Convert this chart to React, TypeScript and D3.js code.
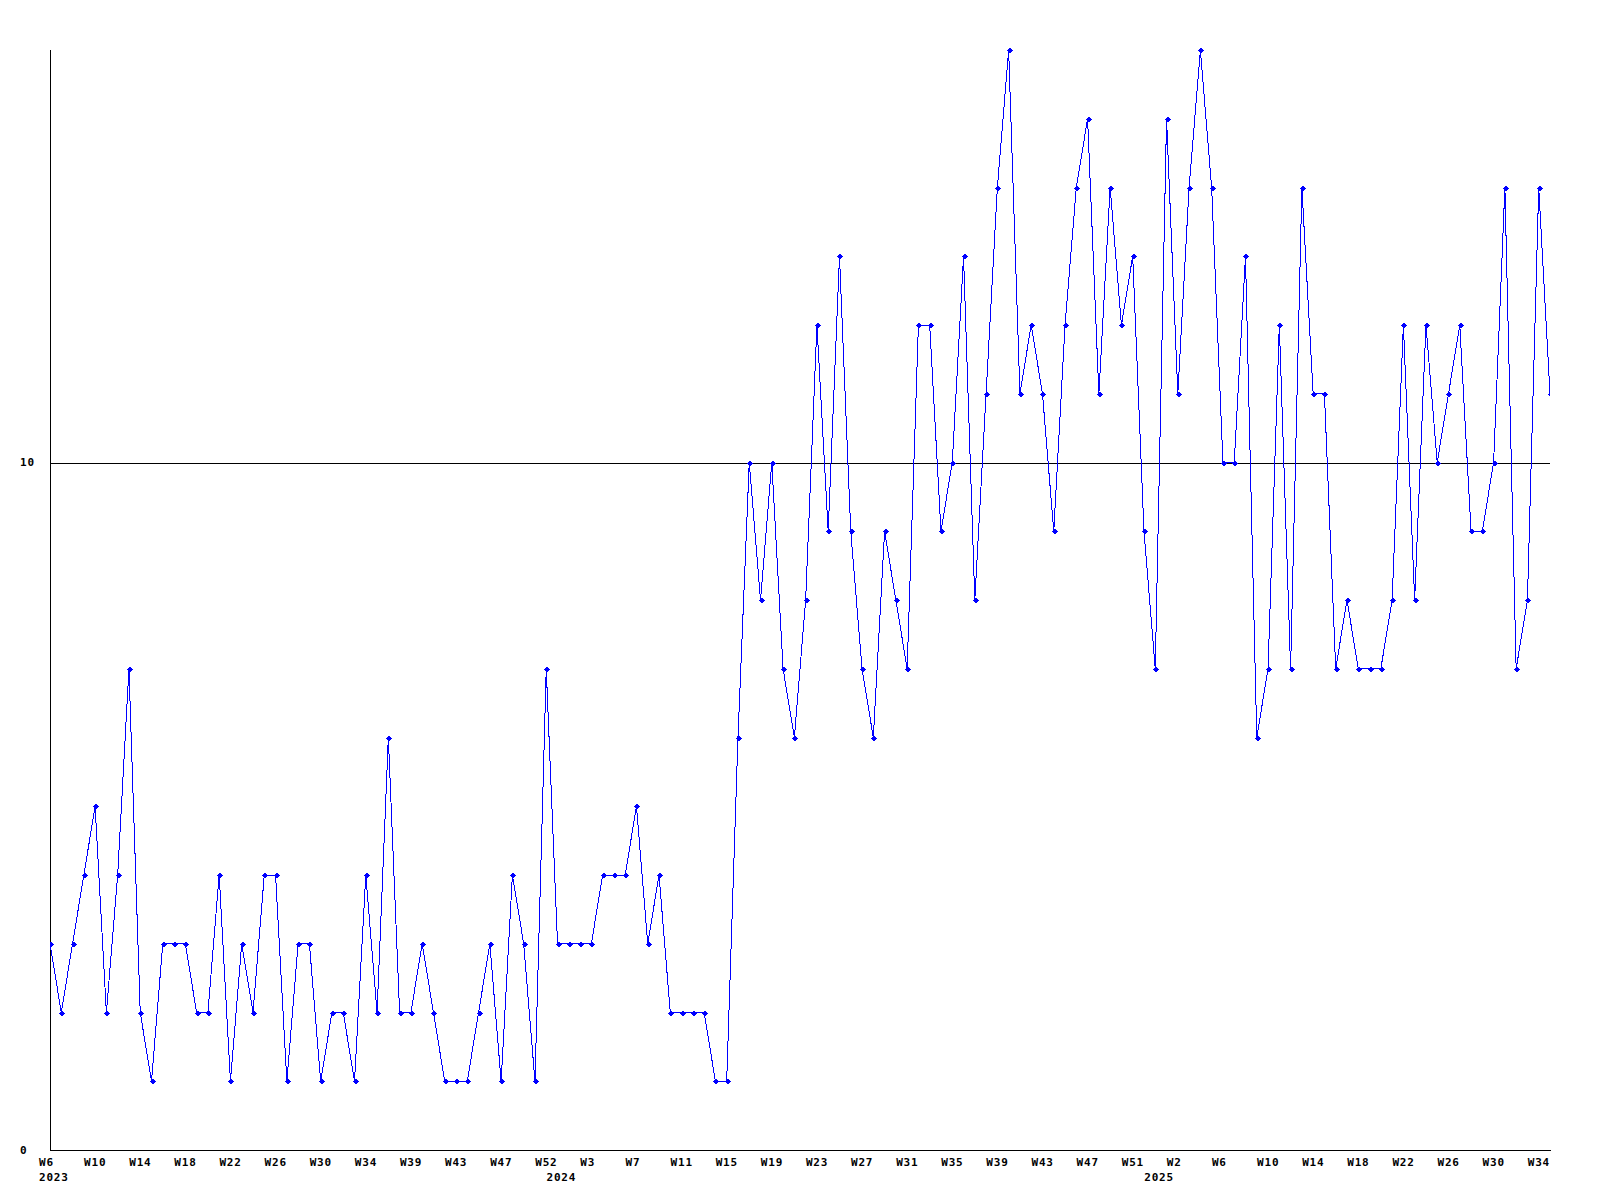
import React from "react";
import * as d3 from "d3";

const values: number[] = [
  3, 2, 3, 4, 5, 2, 4, 7, 2, 1,
  3, 3, 3, 2, 2, 4, 1, 3, 2, 4,
  4, 1, 3, 3, 1, 2, 2, 1, 4, 2,
  6, 2, 2, 3, 2, 1, 1, 1, 2, 3,
  1, 4, 3, 1, 7, 3, 3, 3, 3, 4,
  4, 4, 5, 3, 4, 2, 2, 2, 2, 1,
  1, 6, 10, 8, 10, 7, 6, 8, 12, 9,
  13, 9, 7, 6, 9, 8, 7, 12, 12, 9,
  10, 13, 8, 11, 14, 16, 11, 12, 11, 9,
  12, 14, 15, 11, 14, 12, 13, 9, 7, 15,
  11, 14, 16, 14, 10, 10, 13, 6, 7, 12,
  7, 14, 11, 11, 7, 8, 7, 7, 7, 8,
  12, 8, 12, 10, 11, 12, 9, 9, 10, 14,
  7, 8, 14, 11,
];

const weekLabels: string[] = [
  "W6", "W10", "W14", "W18", "W22", "W26", "W30", "W34", "W39", "W43", "W47", "W52",
  "W3", "W7", "W11", "W15", "W19", "W23", "W27", "W31", "W35", "W39", "W43", "W47", "W51",
  "W2", "W6", "W10", "W14", "W18", "W22", "W26", "W30", "W34",
];
const labelStep = 4;

const yearLabels: string[] = ["2023", "2024", "2025"];
const yearIndices: number[] = [0, 45, 98];

const yTicks: number[] = [0, 10];
const yMax = 16;

export default function App() {
  const W = 1600;
  const H = 1200;
  const left = 50;
  const right = 1550;
  const top = 50;
  const bottom = 1150;

  const x = d3.scaleLinear().domain([0, values.length - 1]).range([left, right]);
  const y = d3.scaleLinear().domain([0, yMax]).range([bottom, top]);

  const line = d3
    .line<number>()
    .x((_, i) => x(i))
    .y((d) => y(d));

  const font = "'DejaVu Sans Mono', monospace";
  const textProps = {
    fontFamily: font,
    fontWeight: "bold" as const,
    fontSize: 11,
    letterSpacing: 0.8,
    fill: "#000",
  };

  return (
    <svg
      width={W}
      height={H}
      style={{ position: "absolute", left: 0, top: 0, background: "#fff" }}
    >
      <defs>
        <clipPath id="plotclip">
          <rect x={left} y={top - 5} width={right - left} height={bottom - top + 10} />
        </clipPath>
      </defs>
      {/* gridlines */}
      {yTicks
        .filter((t) => t !== 0)
        .map((t) => (
          <line
            key={"g" + t}
            x1={left}
            x2={right}
            y1={Math.round(y(t)) + 0.5}
            y2={Math.round(y(t)) + 0.5}
            stroke="#000"
            strokeWidth={1}
            shapeRendering="crispEdges"
          />
        ))}
      {/* axes */}
      <line x1={left + 0.5} x2={left + 0.5} y1={top} y2={bottom} stroke="#000" shapeRendering="crispEdges" />
      <line x1={left} x2={right + 1} y1={bottom + 0.5} y2={bottom + 0.5} stroke="#000" shapeRendering="crispEdges" />

      {/* y labels */}
      {yTicks.map((t) => (
        <text key={"y" + t} x={20} y={y(t)} dy="0.35em" {...textProps}>
          {t}
        </text>
      ))}

      {/* x labels */}
      {weekLabels.map((l, k) => (
        <text key={"w" + k} x={x(k * labelStep) - 11} y={1166} {...textProps}>
          {l}
        </text>
      ))}
      {yearLabels.map((l, k) => (
        <text key={"yr" + k} x={x(yearIndices[k]) - 11} y={1181} {...textProps}>
          {l}
        </text>
      ))}

      <g clipPath="url(#plotclip)">
        <path d={line(values) || ""} fill="none" stroke="#0000ff" strokeWidth={1} shapeRendering="crispEdges" />
        {values.map((v, i) => {
          const cx = Math.round(x(i));
          const cy = Math.round(y(v));
          return (
            <path
              key={"m" + i}
              d={`M${cx - 2.5},${cy + 0.5}L${cx + 0.5},${cy - 2.5}L${cx + 3.5},${cy + 0.5}L${cx + 0.5},${cy + 3.5}Z`}
              fill="#0000ff"
              shapeRendering="crispEdges"
            />
          );
        })}
      </g>
    </svg>
  );
}
